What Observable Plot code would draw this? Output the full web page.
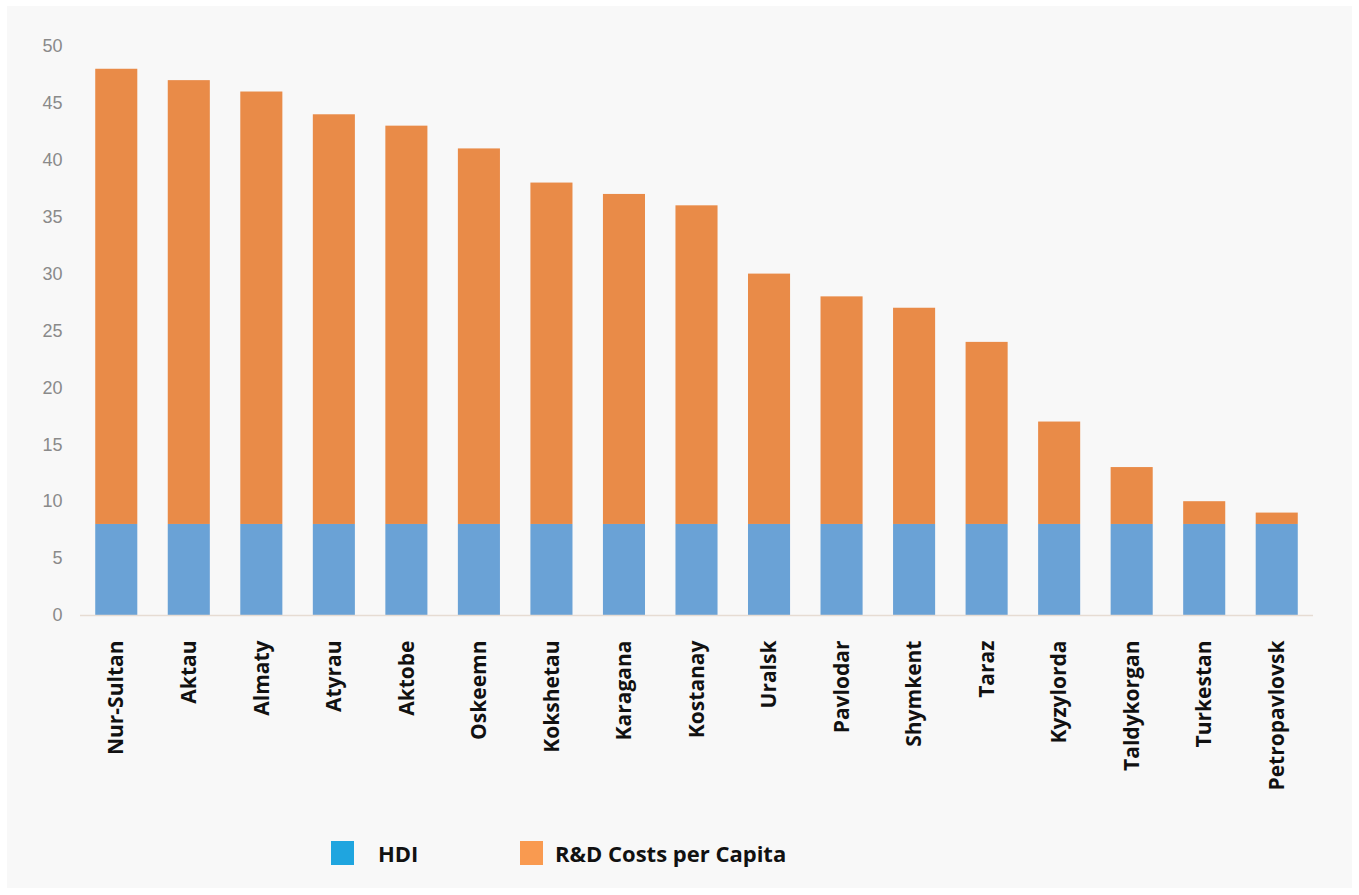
<!DOCTYPE html>
<html>
<head>
<meta charset="utf-8">
<script src="https://cdn.jsdelivr.net/npm/d3@7"></script>
<script src="https://cdn.jsdelivr.net/npm/@observablehq/plot@0.6"></script>
<style>
  html, body { margin: 0; padding: 0; background: #ffffff; }
  #panel { position: absolute; left: 7px; top: 6px; width: 1345px; height: 882px; background: #f8f8f8; }
  #chart { position: absolute; left: 0; top: 0; }
  .legend { position: absolute; top: 832px; display: flex; align-items: center; font-family: "Open Sans", sans-serif; font-weight: 700; font-size: 22px; color: #111; }
  .sw { width: 23px; height: 24px; display: inline-block; margin-right: 24px; }
</style>
</head>
<body>
<div id="panel">
  <div id="chart"></div>
  <div class="legend" style="left:324px"><span class="sw" style="background:#1fa5df"></span>HDI</div>
  <div class="legend" style="left:513px"><span class="sw" style="background:#f99a50; margin-right:12px"></span>R&amp;D Costs per Capita</div>
</div>
<script>
const cities = ["Nur-Sultan","Aktau","Almaty","Atyrau","Aktobe","Oskeemn","Kokshetau","Karagana","Kostanay","Uralsk","Pavlodar","Shymkent","Taraz","Kyzylorda","Taldykorgan","Turkestan","Petropavlovsk"];
const hdi = [8,8,8,8,8,8,8,8,8,8,8,8,8,8,8,8,8];
const rdCosts = [40,39,38,36,35,33,30,29,28,22,20,19,16,9,5,2,1];
const seriesNames = ["HDI","R&D Costs per Capita"];
const seriesColors = ["#6aa2d6","#e98b48"];
const yTicks = [0,5,10,15,20,25,30,35,40,45,50];

const data = [
  ...cities.map((c, i) => ({city: c, series: seriesNames[0], value: hdi[i]})),
  ...cities.map((c, i) => ({city: c, series: seriesNames[1], value: rdCosts[i]}))
];

const chart = Plot.plot({
  width: 1345,
  height: 800,
  marginLeft: 73,
  marginRight: 39,
  marginTop: 40,
  marginBottom: 191,
  style: {background: "transparent", fontFamily: "Arial, 'Liberation Sans', sans-serif"},
  x: {domain: cities, paddingInner: 0.42, paddingOuter: 0.21, round: false, label: null},
  y: {domain: [0, 50], label: null},
  color: {domain: seriesNames, range: seriesColors},
  marks: [
    Plot.barY(data, {x: "city", y: "value", fill: "series", order: seriesNames}),
    Plot.ruleY([0], {stroke: "#e6dcd3", strokeWidth: 1.5}),
    Plot.axisY({ticks: yTicks, tickSize: 0, tickPadding: 18, fontSize: 18, fill: "#8a8a8a", label: null}),
    Plot.axisX({tickSize: 0, tickPadding: 25, tickRotate: -90, fontSize: 21, fontWeight: "bold", fill: "#111", fontFamily: "'Open Sans', sans-serif", label: null})
  ]
});
document.getElementById("chart").appendChild(chart);
</script>
</body>
</html>
